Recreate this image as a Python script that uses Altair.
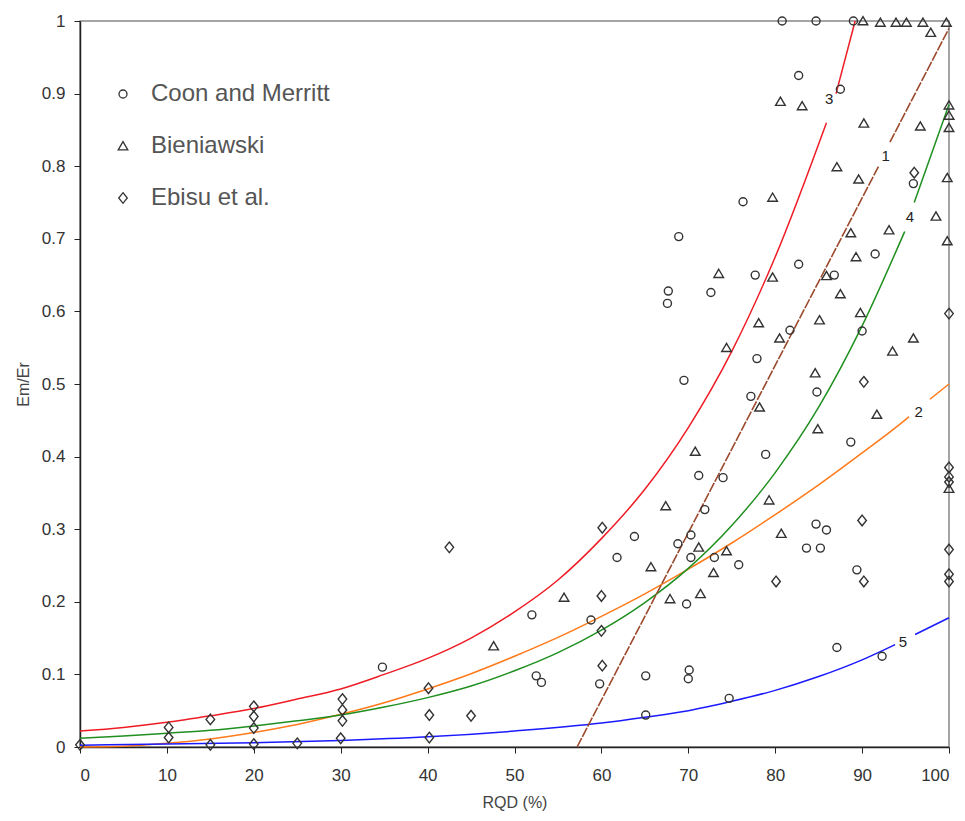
import altair as alt
import pandas as pd

# ---------------- scatter data ----------------
coon_rqd = [80.8, 84.7, 89.0, 82.7, 87.5, 95.9, 76.3, 68.9, 91.5, 82.7, 77.7, 86.8, 67.7, 67.6,
            72.6, 90.0, 81.7, 77.9, 69.5, 77.2, 84.8, 88.7, 78.9, 71.2, 74.0, 71.9, 84.7, 85.9,
            63.8, 70.3, 68.8, 70.3, 83.6, 85.2, 61.8, 73.0, 75.8, 89.4, 69.8, 52.0, 58.8, 87.1,
            92.3, 52.5, 53.1, 65.1, 70.1, 70.0, 59.8, 74.7, 65.1, 34.8]
coon_em = [1.0, 1.0, 1.0, 0.925, 0.906, 0.776, 0.751, 0.703, 0.679, 0.665, 0.650, 0.650, 0.628, 0.611,
           0.626, 0.573, 0.574, 0.535, 0.505, 0.483, 0.489, 0.420, 0.403, 0.374, 0.371, 0.327, 0.307, 0.299,
           0.290, 0.292, 0.280, 0.261, 0.274, 0.274, 0.261, 0.261, 0.251, 0.244, 0.197, 0.182, 0.175, 0.137,
           0.125, 0.098, 0.089, 0.098, 0.106, 0.094, 0.087, 0.067, 0.044, 0.110]

bien_rqd = [90.1, 92.1, 93.9, 95.1, 97.0, 99.7, 97.9, 80.6, 83.1, 90.2, 96.7, 100, 100, 100,
            87.1, 89.6, 99.8, 79.7, 98.5, 88.7, 93.1, 99.8, 89.3, 73.5, 79.7, 85.9, 87.5, 89.8,
            85.1, 78.1, 80.5, 95.9, 93.5, 74.4, 84.6, 78.2, 91.7, 84.9, 70.8, 100, 67.4, 79.3,
            80.7, 71.2, 74.4, 65.7, 72.9, 55.7, 67.9, 71.4, 47.6]
bien_em = [1.0, 0.998, 0.998, 0.998, 0.998, 0.998, 0.984, 0.889, 0.883, 0.859, 0.855, 0.884, 0.870, 0.853,
           0.799, 0.782, 0.784, 0.757, 0.731, 0.708, 0.712, 0.697, 0.675, 0.652, 0.647, 0.649, 0.624, 0.598,
           0.588, 0.584, 0.563, 0.563, 0.545, 0.550, 0.515, 0.468, 0.458, 0.438, 0.407, 0.356, 0.332, 0.340,
           0.294, 0.275, 0.270, 0.248, 0.240, 0.206, 0.204, 0.211, 0.139]

ebisu_rqd = [96.0, 90.2, 100, 100, 100, 100, 90.0, 60.1, 100, 90.2, 80.1, 100, 100, 60.0, 60.0,
             60.1, 42.5, 40.1, 40.2, 45.0, 40.2, 30.2, 30.2, 30.2, 30.0, 25.0, 20.0, 20.0, 20.0,
             20.0, 15.0, 15.0, 10.2, 10.2, 0]
ebisu_em = [0.791, 0.503, 0.597, 0.385, 0.372, 0.365, 0.312, 0.302, 0.272, 0.228, 0.228, 0.238, 0.228, 0.208, 0.160,
            0.112, 0.275, 0.081, 0.044, 0.043, 0.013, 0.066, 0.051, 0.036, 0.012, 0.005, 0.056, 0.042, 0.026,
            0.004, 0.038, 0.003, 0.027, 0.013, 0.003]

series_names = ["Coon and Merritt", "Bieniawski", "Ebisu et al."]

# ---------------- curves, segments split at label gaps ----------------
c1_rqd = [57.2, 91.9, 93.2, 100]
c1_em = [0.0, 0.80, 0.833, 0.99]
c1_seg = ["1a", "1a", "1b", "1b"]

c2_rqd = [0, 5, 10, 15, 20, 25, 30, 35, 40, 45, 50, 55, 60, 65, 70, 75, 80, 85, 90, 95, 95.4, 97.8, 100]
c2_em = [0.0, 0.001, 0.005, 0.011, 0.020, 0.031, 0.045, 0.061, 0.080, 0.101, 0.125, 0.151, 0.180,
         0.211, 0.245, 0.281, 0.320, 0.361, 0.405, 0.451, 0.455, 0.479, 0.5]
c2_seg = ["2a"] * 21 + ["2b"] * 2

c3_rqd = [0, 5, 10, 15, 20, 25, 30, 35, 40, 45, 50, 55, 60, 65, 70, 75, 80, 85.9, 87.0, 89.2]
c3_em = [0.022, 0.027, 0.034, 0.043, 0.053, 0.066, 0.080, 0.100, 0.122, 0.150, 0.186, 0.230, 0.287,
         0.355, 0.440, 0.545, 0.675, 0.86, 0.90, 1.0]
c3_seg = ["3a"] * 18 + ["3b"] * 2

c4_rqd = [0, 5, 10, 15, 20, 25, 30, 35, 40, 45, 50, 55, 60, 65, 70, 75, 80, 85, 90, 94.9, 96.0, 100]
c4_em = [0.012, 0.015, 0.019, 0.023, 0.029, 0.036, 0.044, 0.055, 0.068, 0.084, 0.105, 0.130, 0.161,
         0.199, 0.246, 0.305, 0.378, 0.468, 0.58, 0.71, 0.75, 0.885]
c4_seg = ["4a"] * 20 + ["4b"] * 2

c5_rqd = [0, 10, 20, 30, 40, 50, 60, 65, 70, 75, 80, 85, 90, 93.8, 96.1, 100]
c5_em = [0.0025, 0.004, 0.006, 0.009, 0.014, 0.022, 0.033, 0.041, 0.050, 0.063, 0.078, 0.097,
         0.12, 0.141, 0.155, 0.178]
c5_seg = ["5a"] * 14 + ["5b"] * 2

curve_ids = ["2", "3", "4", "5"]
curve_colors = ["#ff7a1a", "#ee1c25", "#1f8f1f", "#1a1aff"]

label_text = ["3", "1", "4", "2", "5"]
label_rqd = [86.2, 92.7, 95.5, 96.5, 94.7]
label_em = [0.892, 0.814, 0.730, 0.462, 0.145]

# ---------------- build tables ----------------
pts = pd.concat([
    pd.DataFrame({"rqd": coon_rqd, "em": coon_em, "src": series_names[0]}),
    pd.DataFrame({"rqd": bien_rqd, "em": bien_em, "src": series_names[1]}),
    pd.DataFrame({"rqd": ebisu_rqd, "em": ebisu_em, "src": series_names[2]}),
], ignore_index=True)

curves = pd.concat([
    pd.DataFrame({"rqd": c2_rqd, "em": c2_em, "seg": c2_seg, "curve": "2"}),
    pd.DataFrame({"rqd": c3_rqd, "em": c3_em, "seg": c3_seg, "curve": "3"}),
    pd.DataFrame({"rqd": c4_rqd, "em": c4_em, "seg": c4_seg, "curve": "4"}),
    pd.DataFrame({"rqd": c5_rqd, "em": c5_em, "seg": c5_seg, "curve": "5"}),
], ignore_index=True)
brown = pd.DataFrame({"rqd": c1_rqd, "em": c1_em, "seg": c1_seg})
labels = pd.DataFrame({"t": label_text, "rqd": label_rqd, "em": label_em})

FONT = "Liberation Sans"
xs = alt.Scale(domain=[0, 100], nice=False, zero=False)
ys = alt.Scale(domain=[0, 1], nice=False, zero=False)

xax = alt.Axis(values=list(range(0, 101, 10)), title="RQD (%)", grid=False, tickSize=6,
               labelPadding=14, titlePadding=11)
yax = alt.Axis(values=[i / 10 for i in range(11)], format=".1~f", title="Em/Er", grid=False,
               tickSize=6, labelPadding=9, titlePadding=10)

base_x = alt.X("rqd:Q", scale=xs, axis=xax)
base_y = alt.Y("em:Q", scale=ys, axis=yax)

lines = alt.Chart(curves).mark_line(strokeWidth=1.5, interpolate="monotone").encode(
    x=base_x, y=base_y,
    color=alt.Color("curve:N", scale=alt.Scale(domain=curve_ids, range=curve_colors), legend=None),
    detail="seg:N", order="rqd:Q")

line1 = alt.Chart(brown).mark_line(strokeWidth=1.6, color="#9c4a2e", strokeDash=[10, 1.5]).encode(
    x=alt.X("rqd:Q", scale=xs), y=alt.Y("em:Q", scale=ys), detail="seg:N", order="rqd:Q")

txt = alt.Chart(labels).mark_text(fontSize=15, font=FONT, color="#222").encode(
    x=alt.X("rqd:Q", scale=xs), y=alt.Y("em:Q", scale=ys), text="t:N")

tri = "M0,-1.1L1.2,0.95L-1.2,0.95Z"
diamond = "M0,-1.33L1.07,0L0,1.33L-1.07,0Z"
points = alt.Chart(pts).mark_point(filled=False, strokeWidth=1.4, color="#333", opacity=1, size=64).encode(
    x=alt.X("rqd:Q", scale=xs), y=alt.Y("em:Q", scale=ys),
    shape=alt.Shape("src:N", scale=alt.Scale(domain=series_names,
                                             range=["circle", tri, diamond]),
                    legend=alt.Legend(title=None, orient="none", legendX=31, legendY=61,
                                      padding=0, labelFontSize=24, labelColor="#555",
                                      labelFont=FONT, labelLimit=0, symbolStrokeColor="#333",
                                      symbolStrokeWidth=1.3, symbolFillColor="transparent",
                                      symbolSize=64, rowPadding=28, labelOffset=16)),
)

chart = alt.layer(lines, line1, txt, points).properties(
    width=869, height=726,
    autosize=alt.AutoSizeParams(type="none"),
    padding={"left": 72, "top": 13, "right": 6, "bottom": 66},
).configure_view(stroke="#888", strokeWidth=1.5).configure_axis(
    labelFont=FONT, titleFont=FONT, labelFontSize=17, titleFontSize=16, titleFontWeight="normal",
    labelColor="#333", titleColor="#444", domainColor="#222", tickColor="#222", domainWidth=1.5,
).configure_legend(labelFont=FONT)

chart.save("out.html", embed_options={"renderer": "svg", "actions": False})
